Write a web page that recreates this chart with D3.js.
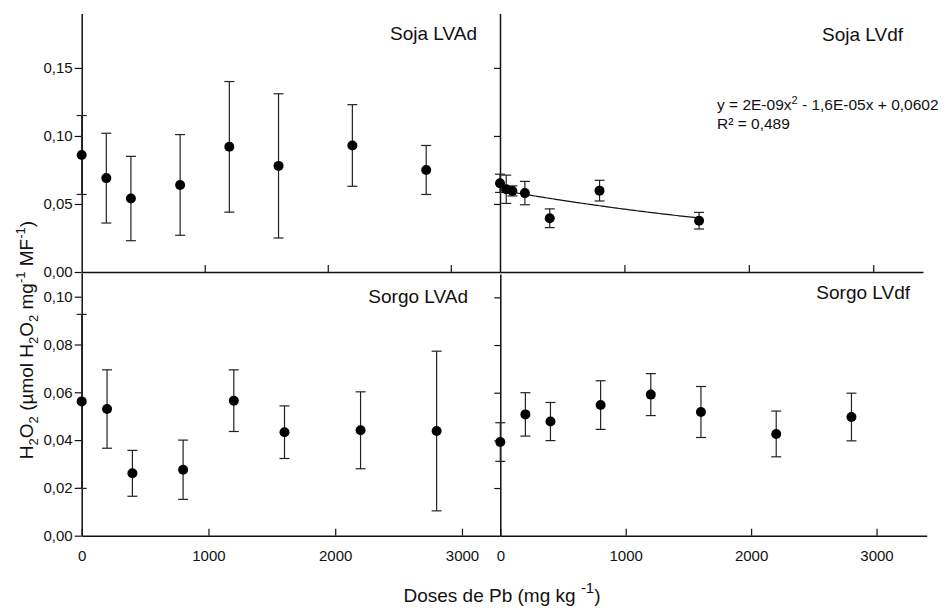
<!DOCTYPE html>
<html><head><meta charset="utf-8">
<script src="https://cdn.jsdelivr.net/npm/d3@7/dist/d3.min.js"></script>
<style>
body{margin:0;background:#fff}
svg{display:block}
text{font-family:"Liberation Sans",Arial,Helvetica,sans-serif;fill:#111}
</style>
</head><body>
<svg id="c" width="946" height="616"></svg>
<script>
// ---- data ----
const dosesSojaLVAd = [0, 200, 400, 800, 1200, 1600, 2200, 2800];
const meanSojaLVAd  = [0.086, 0.069, 0.054, 0.064, 0.092, 0.078, 0.093, 0.075];
const errSojaLVAd   = [0.029, 0.033, 0.031, 0.037, 0.048, 0.053, 0.030, 0.018];

const dosesSojaLVdf = [0, 50, 100, 200, 400, 800, 1600];
const meanSojaLVdf  = [0.0652, 0.0608, 0.0596, 0.058, 0.0395, 0.0598, 0.0377];
const errSojaLVdf   = [0.0067, 0.0104, 0.0037, 0.0086, 0.0069, 0.0076, 0.0061];

const dosesSorgoLVAd = [0, 200, 400, 800, 1200, 1600, 2200, 2800];
const meanSorgoLVAd  = [0.0562, 0.053, 0.0261, 0.0276, 0.0565, 0.0433, 0.0441, 0.0438];
const errSorgoLVAd   = [0.0364, 0.0164, 0.0096, 0.0124, 0.0129, 0.011, 0.0161, 0.0334];

const dosesSorgoLVdf = [0, 200, 400, 800, 1200, 1600, 2200, 2800];
const meanSorgoLVdf  = [0.0393, 0.0509, 0.0479, 0.0548, 0.0592, 0.0519, 0.0427, 0.0498];
const errSorgoLVdf   = [0.0081, 0.0091, 0.008, 0.0102, 0.0088, 0.0107, 0.0096, 0.01];

const fitCoefSojaLVdf = [2e-9, -1.6e-5, 0.0602]; // y = a x^2 + b x + c
const fitRangeSojaLVdf = [0, 1600];

const xTicks = [0, 1000, 2000, 3000];
const yTicksTop = [0, 0.05, 0.10, 0.15];
const yTicksBottom = [0, 0.02, 0.04, 0.06, 0.08, 0.10];
const panelTitles = ["Soja LVAd", "Soja LVdf", "Sorgo LVAd", "Sorgo LVdf"];

// ---- layout ----
const svg = d3.select("#c");
const fmtY = d => d3.format(".2f")(d).replace(".", ",");
const fmtX = d3.format("d");

const panels = [
  {title: panelTitles[0], doses: dosesSojaLVAd, mean: meanSojaLVAd, err: errSojaLVAd,
   xr: [81.7, 500], xmax: 3400, yr: [272, 13.5], ymax: 0.19, yTicks: yTicksTop,
   left: true, bottom: false, tx: 477, ty: 40},
  {title: panelTitles[1], doses: dosesSojaLVdf, mean: meanSojaLVdf, err: errSojaLVdf,
   xr: [500, 923], xmax: 3400, yr: [272, 13.5], ymax: 0.19, yTicks: yTicksTop,
   left: false, bottom: false, tx: 903, ty: 41,
   fit: fitCoefSojaLVdf, fitRange: fitRangeSojaLVdf},
  {title: panelTitles[2], doses: dosesSorgoLVAd, mean: meanSorgoLVAd, err: errSorgoLVAd,
   xr: [81.7, 500], xmax: 3300, yr: [535.7, 272.8], ymax: 0.11, yTicks: yTicksBottom,
   left: true, bottom: true, tx: 468, ty: 303},
  {title: panelTitles[3], doses: dosesSorgoLVdf, mean: meanSorgoLVdf, err: errSorgoLVdf,
   xr: [500.3, 926.7], xmax: 3400, yr: [535.7, 274], ymax: 0.1098, yTicks: yTicksBottom,
   left: false, bottom: true, tx: 910, ty: 299}
];

const axisColor = "#111";

panels.forEach(p => {
  const x = d3.scaleLinear().domain([0, p.xmax]).range(p.xr);
  const y = d3.scaleLinear().domain([0, p.ymax]).range(p.yr);
  const g = svg.append("g");

  // y axis
  let ya;
  if (p.left) {
    ya = d3.axisLeft(y).tickValues(p.yTicks).tickSizeInner(7).tickSizeOuter(0).tickPadding(2).tickFormat(fmtY);
  } else {
    ya = d3.axisRight(y).tickValues(p.yTicks.filter(v => v > 0)).tickSizeInner(-6).tickSizeOuter(0).tickFormat("");
  }
  const yg = g.append("g").attr("transform", `translate(${x(0)},0)`).call(ya);
  // x axis
  const xa = d3.axisBottom(x).tickValues(xTicks).tickSizeInner(-7).tickSizeOuter(0).tickPadding(15)
    .tickFormat(p.bottom ? fmtX : "");
  const xg = g.append("g").attr("transform", `translate(0,${y(0)})`).call(xa);

  [yg, xg].forEach(a => {
    a.select(".domain").attr("stroke", axisColor).attr("stroke-width", 1.5);
    a.selectAll(".tick line").attr("stroke", axisColor).attr("stroke-width", 1.2);
    a.selectAll("text").attr("font-size", 15).attr("fill", "#111")
      .attr("font-family", '"Liberation Sans",Arial,sans-serif');
  });
  xg.selectAll(".tick").filter(d => d === 0 && !p.bottom).select("line").remove();

  // fit line
  if (p.fit) {
    const [a, b, c] = p.fit;
    const xs = d3.range(p.fitRange[0], p.fitRange[1] + 1, 20);
    g.append("path")
      .datum(xs)
      .attr("fill", "none").attr("stroke", "#111").attr("stroke-width", 1.2)
      .attr("d", d3.line().x(d => x(d)).y(d => y(a * d * d + b * d + c)));
  }

  // error bars
  const data = p.doses.map((d, i) => ({d, m: p.mean[i], e: p.err[i]}));
  const eb = g.append("g").attr("stroke", "#222").attr("stroke-width", 1.2);
  data.forEach(o => {
    const cx = x(o.d), yt = y(o.m + o.e), yb = y(o.m - o.e);
    eb.append("line").attr("x1", cx).attr("x2", cx).attr("y1", yt).attr("y2", yb);
    eb.append("line").attr("x1", cx - 5).attr("x2", cx + 5).attr("y1", yt).attr("y2", yt);
    eb.append("line").attr("x1", cx - 5).attr("x2", cx + 5).attr("y1", yb).attr("y2", yb);
  });
  // points
  g.selectAll("circle").data(data).join("circle")
    .attr("cx", o => x(o.d)).attr("cy", o => y(o.m)).attr("r", 5).attr("fill", "#000");

  // title
  g.append("text").attr("x", p.tx).attr("y", p.ty).attr("text-anchor", "end")
    .attr("font-size", 19).text(p.title);
});

// equation
const eq = svg.append("text").attr("x", 717).attr("y", 110).attr("font-size", 15.5);
eq.append("tspan").text("y = 2E-09x");
eq.append("tspan").attr("dy", -6).attr("font-size", 11).text("2");
eq.append("tspan").attr("dy", 6).text(" - 1,6E-05x + 0,0602");
svg.append("text").attr("x", 717).attr("y", 129).attr("font-size", 15.5).text("R\u00B2 = 0,489");

// x axis title
const xt = svg.append("text").attr("x", 502).attr("y", 602).attr("text-anchor", "middle").attr("font-size", 19);
xt.append("tspan").text("Doses de Pb (mg kg ");
xt.append("tspan").attr("dy", -9).attr("font-size", 15).text("-1");
xt.append("tspan").attr("dy", 9).text(")");

// y axis title
const yt = svg.append("text").attr("transform", "translate(33,340) rotate(-90)")
  .attr("text-anchor", "middle").attr("font-size", 19);
const parts = [
  ["H", 0], ["2", 1], ["O", 0], ["2", 1], [" (\u00B5mol H", 0], ["2", 1], ["O", 0], ["2", 1],
  [" mg", 0], ["-1", 2], [" MF", 0], ["-1", 2], [")", 0]
];
let cur = 0;
parts.forEach(([t, k]) => {
  const target = k === 1 ? 5 : (k === 2 ? -8 : 0);
  const s = yt.append("tspan").attr("dy", target - cur).text(t);
  if (k) s.attr("font-size", 13);
  cur = target;
});
</script>
</body></html>
